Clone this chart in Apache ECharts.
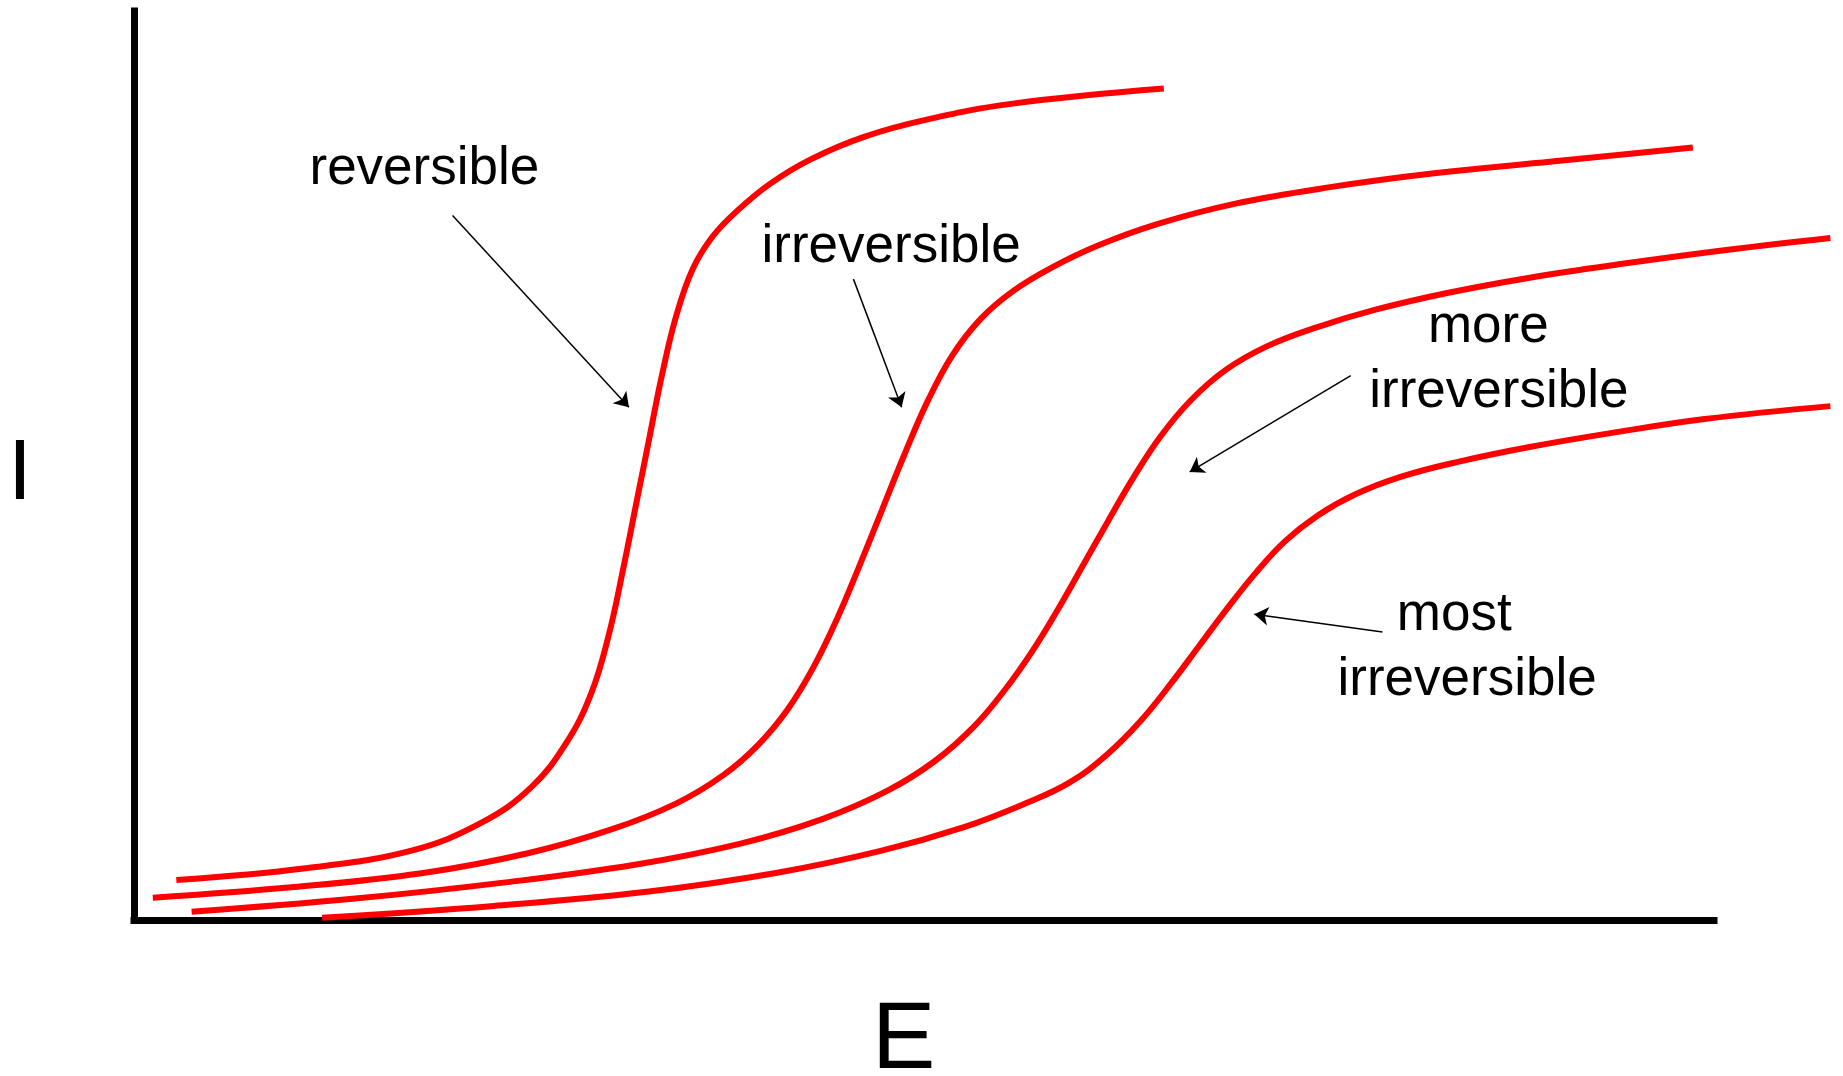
<!DOCTYPE html>
<html>
<head>
<meta charset="utf-8">
<script src="https://cdn.jsdelivr.net/npm/echarts@6/dist/echarts.min.js"></script>
<style>
  html, body { margin: 0; padding: 0; background: #fff; }
  #chart { width: 1843px; height: 1076px; }
</style>
</head>
<body>
<div id="chart"></div>
<script>
// curves: [E, I] in arbitrary units
const reversible = [[36, 34], [146, 44], [236, 59], [296, 83], [338, 113], [368, 151], [389, 193], [404, 243], [416, 298], [427, 353], [438, 408], [449, 463], [461, 513], [475, 553], [492, 581], [513, 603], [541, 626], [576, 647], [621, 666], [676, 681], [746, 694], [876, 707]]
const irreversible = [[16, 19], [136, 28], [246, 40], [336, 57], [406, 77], [461, 99], [501, 123], [531, 149], [556, 179], [578, 215], [598, 256], [617, 301], [636, 348], [655, 395], [675, 441], [696, 480], [720, 511], [748, 535], [781, 555], [821, 574], [871, 592], [936, 609], [1016, 623], [1106, 635], [1206, 645], [1326, 657]]
const moreIrreversible = [[49, 7], [186, 18], [316, 32], [426, 47], [516, 65], [586, 86], [641, 110], [681, 135], [714, 164], [741, 196], [765, 230], [787, 266], [808, 303], [829, 340], [850, 376], [873, 411], [899, 442], [929, 468], [964, 488], [1006, 504], [1056, 519], [1116, 533], [1186, 546], [1266, 558], [1356, 570], [1443, 580]]
const mostIrreversible = [[160, 2], [306, 12], [436, 24], [546, 40], [636, 59], [706, 79], [758, 99], [796, 117], [828, 141], [856, 169], [882, 201], [906, 233], [930, 265], [954, 295], [979, 322], [1007, 344], [1039, 362], [1078, 377], [1128, 390], [1186, 402], [1256, 414], [1336, 426], [1443, 437]]

// annotation text and arrows
const labels = [
  { name: 'reversible', value: [247, 638] },
  { name: 'irreversible', value: [644, 572] },
  { name: 'more', value: [1152, 504] },
  { name: 'irreversible', value: [1161, 449] },
  { name: 'most', value: [1123, 259] },
  { name: 'irreversible', value: [1134, 204] }
]
const arrows = [
  [[271, 599], [421, 436]],
  [[612, 545], [653, 436]],
  [[1035, 463], [898, 381]],
  [[1062, 245], [953, 260]]
]

const eMax = 1443     // right end of the longest curves
const eAxisEnd = 1344 // where the drawn E axis stops
const iMax = 773

const font = 'Liberation Sans, Arial, sans-serif'
const chart = echarts.init(document.getElementById('chart'))

function curve(data) {
  return {
    type: 'line',
    data: data,
    smooth: 0.4,
    showSymbol: false,
    silent: true,
    lineStyle: { color: '#ff0000', width: 6 }
  }
}

function axis(extra, showLine) {
  return Object.assign({
    type: 'value',
    min: 0,
    splitLine: { show: false },
    axisTick: { show: false },
    axisLabel: { show: false },
    axisLine: { show: showLine, onZero: false, lineStyle: { color: '#000', width: 7, cap: 'square' } }
  }, extra)
}

const plotW = 1580
chart.setOption({
  animation: false,
  backgroundColor: '#fff',
  grid: [
    { left: 134, top: 11, width: plotW * eMax / eAxisEnd, height: 909 },
    { left: 134, top: 11, width: plotW, height: 909 }
  ],
  xAxis: [
    axis({ max: eMax, gridIndex: 0 }, false),
    axis({ max: eAxisEnd, gridIndex: 1 }, true)
  ],
  yAxis: [
    axis({ max: iMax, gridIndex: 0 }, true),
    axis({ max: iMax, gridIndex: 1 }, false)
  ],
  graphic: [
    { type: 'text', left: 8, top: 432, style: { text: 'I', fontSize: 86, fontFamily: font, fill: '#000' } },
    { type: 'text', left: 872, top: 994, style: { text: 'E', fontSize: 95, fontFamily: font, fill: '#000' } }
  ],
  series: [
    curve(reversible),
    curve(irreversible),
    curve(moreIrreversible),
    curve(mostIrreversible),
    {
      type: 'lines',
      coordinateSystem: 'cartesian2d',
      silent: true,
      symbol: ['none', 'arrow'],
      symbolSize: 14,
      lineStyle: { color: '#000', width: 1.5, curveness: 0, opacity: 1 },
      data: arrows.map(a => ({ coords: a }))
    },
    {
      type: 'scatter',
      symbolSize: 0,
      silent: true,
      itemStyle: { opacity: 1 },
      data: labels,
      label: {
        show: true,
        position: 'inside',
        formatter: '{b}',
        color: '#000',
        opacity: 1,
        textBorderWidth: 0,
        textBorderColor: 'transparent',
        fontSize: 53,
        fontFamily: font
      }
    }
  ]
})
</script>
</body>
</html>
